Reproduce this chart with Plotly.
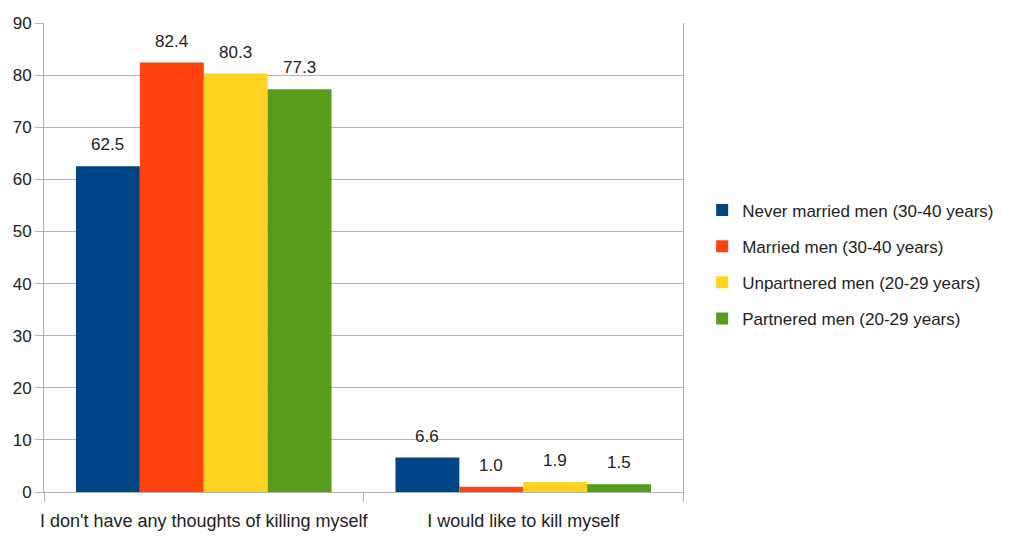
import plotly.graph_objects as go

categories = ["I don't have any thoughts of killing myself", "I would like to kill myself"]
series_names = [
    "Never married men (30-40 years)",
    "Married men (30-40 years)",
    "Unpartnered men (20-29 years)",
    "Partnered men (20-29 years)",
]
never_married = [62.5, 6.6]
married = [82.4, 1.0]
unpartnered = [80.3, 1.9]
partnered = [77.3, 1.5]
series_values = [never_married, married, unpartnered, partnered]
colors = ["#004586", "#ff420e", "#ffd320", "#579d1c"]
y_ticks = list(range(0, 100, 10))

FONT = "Liberation Sans, Arial, sans-serif"
TXT = "#222222"
GRID = "#b3b3b3"
BARGAP = 0.2

fig = go.Figure()
for i, (name, vals, col) in enumerate(zip(series_names, series_values, colors)):
    fig.add_trace(go.Bar(
        x=categories, y=vals, name=name, marker=dict(color=col, line=dict(width=0)),
        legendgroup=name,
    ))

# value labels above each bar
n = len(series_names)
bw = (1 - BARGAP) / n
for i, vals in enumerate(series_values):
    off = (i - (n - 1) / 2) * bw
    for ci, v in enumerate(vals):
        fig.add_annotation(
            x=ci + off, y=v, xref="x", yref="y", text=f"{v:.1f}",
            showarrow=False, yanchor="bottom", yshift=10,
            font=dict(family=FONT, size=17, color=TXT),
        )

fig.update_layout(
    width=1011, height=537,
    margin=dict(l=44, r=326, t=23, b=45),
    paper_bgcolor="white", plot_bgcolor="white",
    barmode="group", bargap=BARGAP, bargroupgap=0,
    font=dict(family=FONT, size=17, color=TXT),
    legend=dict(
        x=1.03, y=0.485, xanchor="left", yanchor="middle",
        font=dict(family=FONT, size=17, color=TXT),
        itemwidth=30, tracegroupgap=11, traceorder="grouped",
        bgcolor="rgba(0,0,0,0)", borderwidth=0,
    ),
    showlegend=True,
)
fig.update_xaxes(
    type="category", showgrid=False, showline=True, linecolor=GRID, linewidth=1,
    ticks="outside", tickson="boundaries", ticklen=9, tickcolor=GRID,
    tickangle=0, automargin=False, ticklabelstandoff=12,
    tickfont=dict(family=FONT, size=18, color=TXT),
)
fig.update_yaxes(
    range=[0, 90], tickvals=y_ticks, showgrid=True, gridcolor=GRID, gridwidth=1,
    showline=True, mirror=True, linecolor=GRID, linewidth=1,
    ticks="outside", ticklen=8, tickcolor=GRID, zeroline=False, automargin=False,
    tickfont=dict(family=FONT, size=17, color=TXT),
)

fig.write_html("out.html")
